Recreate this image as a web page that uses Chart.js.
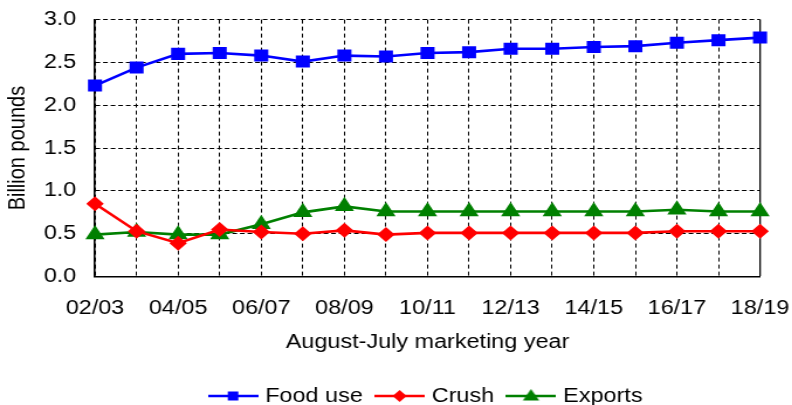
<!DOCTYPE html>
<html>
<head>
<meta charset="utf-8">
<script src="https://cdn.jsdelivr.net/npm/chart.js@4"></script>
<style>
html, body { margin: 0; padding: 0; background: #fff; overflow: hidden; }
#wrap { width: 677px; height: 405px; transform: scaleX(1.17); transform-origin: 0 0; }
</style>
</head>
<body>
<div id="wrap"><canvas id="chart"></canvas></div>
<script>
var years = ['02/03','03/04','04/05','05/06','06/07','07/08','08/09','09/10','10/11',
	'11/12','12/13','13/14','14/15','15/16','16/17','17/18','18/19'];
var foodUse = [2.23, 2.44, 2.60, 2.61, 2.58, 2.51, 2.58, 2.57, 2.61, 2.62, 2.66, 2.66, 2.68, 2.69, 2.73, 2.76, 2.79];
var crush = [0.85, 0.53, 0.39, 0.55, 0.52, 0.50, 0.54, 0.49, 0.51, 0.51, 0.51, 0.51, 0.51, 0.51, 0.53, 0.53, 0.53];
var exportsData = [0.49, 0.52, 0.49, 0.49, 0.61, 0.75, 0.82, 0.76, 0.76, 0.76, 0.76, 0.76, 0.76, 0.76, 0.78, 0.76, 0.76];
var yTicks = [0, 0.5, 1.0, 1.5, 2.0, 2.5, 3.0];

Chart.defaults.font.family = '"Liberation Sans", Arial, sans-serif';
Chart.defaults.font.size = 20;
Chart.defaults.color = '#000';

// legend icon: a short line with the marker in the middle
function legendIcon(color, style)
{
	var c = document.createElement('canvas');
	c.width = 43;
	c.height = 20;
	var g = c.getContext('2d');
	g.strokeStyle = color;
	g.fillStyle = color;
	g.lineWidth = 2.5;
	g.beginPath();
	g.moveTo(0, 10);
	g.lineTo(43, 10);
	g.stroke();
	g.beginPath();
	if (style == 'rect') {
		g.rect(17, 5.5, 9, 9);
	} else if (style == 'rectRot') {
		g.moveTo(15.5, 10); g.lineTo(21.5, 4); g.lineTo(27.5, 10); g.lineTo(21.5, 16);
	} else {
		g.moveTo(21.5, 3); g.lineTo(28.5, 14.5); g.lineTo(14.5, 14.5);
	}
	g.closePath();
	g.fill();
	return c;
}

var legendShift = {
	id: 'legendShift',
	beforeLayout: function(chart) {
		var lg = chart.legend;
		if (lg && !lg._shifted) {
			var fit = lg.fit;
			lg.fit = function() { fit.call(this); this.height -= 11; };
			lg._shifted = true;
		}
	}
};

var chart = new Chart(document.getElementById('chart'), {
	type: 'line',
	data: {
		labels: years,
		datasets: [{
			label: 'Food use',
			data: foodUse,
			borderColor: '#0000FF',
			backgroundColor: '#0000FF',
			borderWidth: 2.6,
			pointStyle: 'rect',
			pointRadius: 8.5,
			pointHoverRadius: 8.5,
			pointBorderWidth: 0,
			icon: legendIcon('#0000FF', 'rect')
		}, {
			label: 'Crush',
			data: crush,
			borderColor: '#FF0000',
			backgroundColor: '#FF0000',
			borderWidth: 2.6,
			pointStyle: 'rectRot',
			pointRadius: 7.5,
			pointHoverRadius: 7.5,
			pointBorderWidth: 0,
			icon: legendIcon('#FF0000', 'rectRot')
		}, {
			label: 'Exports',
			data: exportsData,
			borderColor: '#008000',
			backgroundColor: '#008000',
			borderWidth: 2.6,
			pointStyle: 'triangle',
			pointRadius: 9.5,
			pointHoverRadius: 9.5,
			pointBorderWidth: 0,
			icon: legendIcon('#008000', 'triangle')
		}]
	},
	options: {
		responsive: true,
		maintainAspectRatio: false,
		animation: false,
		layout: { padding: { top: 19.6, right: 27.4, left: 0, bottom: 0 } },
		plugins: {
			tooltip: { enabled: false },
			legend: {
				position: 'bottom',
				fullSize: false,
				labels: {
					usePointStyle: true,
					pointStyleWidth: 35,
					padding: 14,
					font: { size: 20 },
					generateLabels: function(ch) {
						return ch.data.datasets.map(function(ds, i) {
							return {
								text: ds.label,
								pointStyle: ds.icon,
								fillStyle: ds.borderColor,
								strokeStyle: ds.borderColor,
								lineWidth: 0,
								hidden: false,
								datasetIndex: i
							};
						});
					}
				}
			}
		},
		scales: {
			x: {
				ticks: {
					autoSkip: false,
					maxRotation: 0,
					padding: 20,
					callback: function(v, i) { return i % 2 == 0 ? this.getLabelForValue(v) : ''; }
				},
				grid: {
					color: '#000',
					drawTicks: false,
					lineWidth: function(c) { return c.index == years.length - 1 ? 1.3 : 1; }
				},
				border: {
					color: '#000',
					width: 1.5,
					dash: function(c) { return c.index == years.length - 1 ? [] : [4, 3]; }
				},
				title: {
					display: true,
					text: 'August-July marketing year',
					padding: { top: 0, bottom: 17.5 }
				},
				afterFit: function(s) {
					s.height = 95.4;
					s.paddingLeft = 0;
					s.paddingRight = 0;
				}
			},
			y: {
				min: 0,
				max: 3,
				afterBuildTicks: function(s) { s.ticks = yTicks.map(function(v) { return { value: v }; }); },
				ticks: {
					padding: 16,
					callback: function(v) { return Number(v).toFixed(1); }
				},
				grid: { color: '#000', drawTicks: false, lineWidth: 1 },
				border: { color: '#000', width: 1.6, dash: [4, 2.5] },
				title: {
					display: true,
					text: 'Billion pounds',
					padding: { top: 3.4, bottom: 0 }
				},
				afterFit: function(s) {
					s.width = 81.2;
					s.paddingTop = 0;
					s.paddingBottom = 0;
				}
			}
		}
	},
	plugins: [legendShift]
});
</script>
</body>
</html>
